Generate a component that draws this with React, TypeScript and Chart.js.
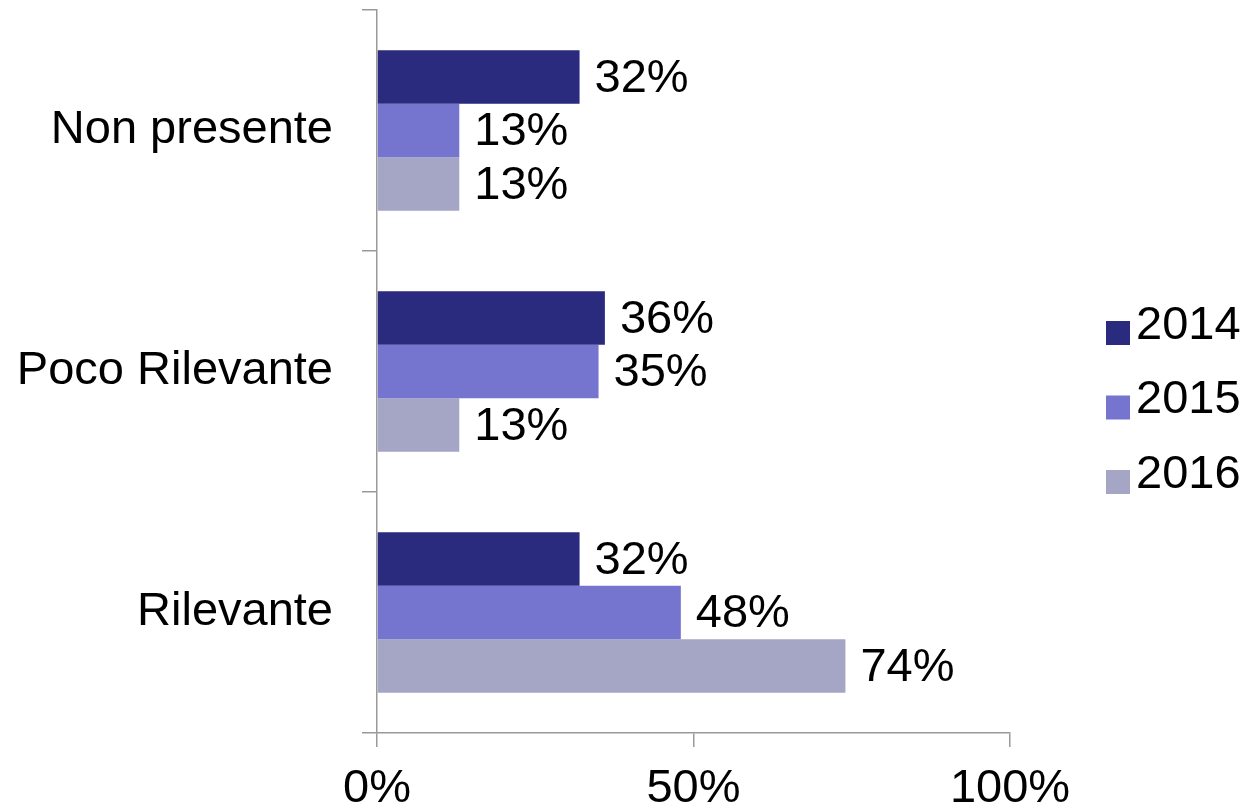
import React, { useEffect, useRef } from "react";
import { Chart, registerables } from "chart.js";

Chart.register(...registerables);

const categories = ["Non presente", "Poco Rilevante", "Rilevante"];
const seriesNames = ["2014", "2015", "2016"];
const values2014 = [32, 36, 32];
const values2015 = [13, 35, 48];
const values2016 = [13, 13, 74];
const seriesColors = ["#2a2a7e", "#7575d0", "#a5a5c5"];
const xTicks = [0, 50, 100];

const FONT_FAMILY = "'Liberation Sans', Arial, Helvetica, sans-serif";
const FONT_SIZE = 47;
const AXIS_COLOR = "#999999";

const dataLabelPlugin = {
  id: "dataLabels",
  afterDatasetsDraw(chart: any) {
    const ctx = chart.ctx;
    ctx.save();
    ctx.font = `${FONT_SIZE}px ${FONT_FAMILY}`;
    ctx.fillStyle = "#000000";
    ctx.textAlign = "left";
    ctx.textBaseline = "middle";
    chart.data.datasets.forEach((ds: any, di: number) => {
      const meta = chart.getDatasetMeta(di);
      meta.data.forEach((bar: any, i: number) => {
        ctx.fillText(`${ds.data[i]}%`, bar.x + 15, bar.y + 2);
      });
    });
    ctx.restore();
  },
};

const legendPlugin = {
  id: "customLegend",
  afterDraw(chart: any) {
    const ctx = chart.ctx;
    ctx.save();
    ctx.font = `${FONT_SIZE}px ${FONT_FAMILY}`;
    ctx.textAlign = "left";
    ctx.textBaseline = "middle";
    const startY = 333;
    const step = 74.5;
    chart.data.datasets.forEach((ds: any, i: number) => {
      const cy = startY + i * step;
      ctx.fillStyle = ds.backgroundColor;
      ctx.fillRect(1106, cy - 12, 24, 24);
      ctx.fillStyle = "#000000";
      ctx.fillText(ds.label, 1136, cy - 7);
    });
    ctx.restore();
  },
};

export default function App() {
  const canvasRef = useRef<HTMLCanvasElement | null>(null);

  useEffect(() => {
    document.body.style.margin = "0";
    document.body.style.overflow = "hidden";
    const canvas = canvasRef.current;
    if (!canvas) return;
    Chart.defaults.font.family = FONT_FAMILY;
    const seriesValues = [values2014, values2015, values2016];
    const chart = new Chart(canvas, {
      type: "bar",
      data: {
        labels: categories,
        datasets: seriesNames.map((name, i) => ({
          label: name,
          data: seriesValues[i],
          backgroundColor: seriesColors[i],
          borderWidth: 0,
          categoryPercentage: 0.6667,
          barPercentage: 1.0,
        })),
      },
      options: {
        indexAxis: "y",
        responsive: false,
        animation: false,
        layout: { padding: { top: 10, right: 241, left: 0, bottom: 0 } },
        plugins: {
          legend: { display: false },
          tooltip: { enabled: false },
        },
        scales: {
          x: {
            type: "linear",
            min: 0,
            max: 100,
            afterBuildTicks: (scale: any) => {
              scale.ticks = xTicks.map((v) => ({ value: v }));
            },
            afterFit: (scale: any) => {
              scale.height = 75;
            },
            ticks: {
              callback: (v: any) => `${v}%`,
              font: { size: FONT_SIZE },
              color: "#000000",
              padding: 14,
              maxRotation: 0,
            },
            grid: {
              drawOnChartArea: false,
              drawTicks: true,
              tickLength: 14,
              color: AXIS_COLOR,
              lineWidth: 1.5,
            },
            border: { display: true, color: AXIS_COLOR, width: 1.5 },
          },
          y: {
            type: "category",
            afterFit: (scale: any) => {
              scale.width = 377;
              scale.paddingTop = 0;
              scale.paddingBottom = 0;
            },
            ticks: {
              font: { size: FONT_SIZE },
              color: "#000000",
              padding: 29,
            },
            grid: {
              offset: true,
              drawOnChartArea: false,
              drawTicks: true,
              tickLength: 15,
              color: AXIS_COLOR,
              lineWidth: 1.5,
            },
            border: { display: true, color: AXIS_COLOR, width: 1.5 },
          },
        },
      } as any,
      plugins: [dataLabelPlugin, legendPlugin],
    });
    return () => chart.destroy();
  }, []);

  return (
    <div style={{ width: 1251, height: 808, position: "relative" }}>
      <canvas ref={canvasRef} width={1251} height={808} style={{ display: "block" }} />
    </div>
  );
}
